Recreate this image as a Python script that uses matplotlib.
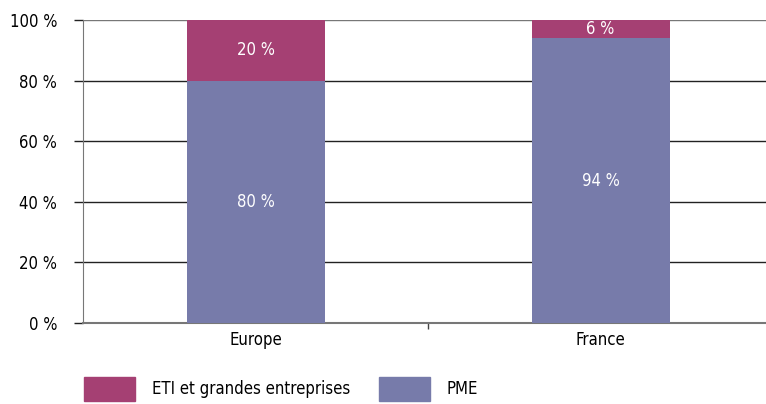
import matplotlib
matplotlib.use("Agg")
import matplotlib.pyplot as plt
import matplotlib.patches as mpatches
from matplotlib.ticker import FuncFormatter

plt.rcParams['font.family'] = ['DejaVu Sans']
plt.rcParams['font.stretch'] = 'condensed'

regions = ['Europe', 'France']
pme = [80, 94]
eti = [20, 6]
series_names = ['ETI et grandes entreprises', 'PME']
yticks = [0, 20, 40, 60, 80, 100]

col_eti = '#A54073'
col_pme = '#777BAA'

fig = plt.figure(figsize=(7.66, 4.04), dpi=100)
ax = fig.add_axes([0.1084, 0.2005, 0.9008, 0.75])

x = range(len(regions))
ax.bar(x, pme, width=0.4, color=col_pme, zorder=3)
ax.bar(x, eti, width=0.4, bottom=pme, color=col_eti, zorder=3)

for xi, p, e in zip(x, pme, eti):
    ax.text(xi, p / 2, f'{p} %', ha='center', va='center', color='white', fontsize=12, zorder=4)
    ax.text(xi, p + e / 2, f'{e} %', ha='center', va='center', color='white', fontsize=12, zorder=4)

ax.set_xlim(-0.5, 1.5)
ax.set_ylim(0, 100)
ax.set_yticks(yticks)
ax.yaxis.set_major_formatter(FuncFormatter(lambda v, _: f'{int(v)} %'))
ax.yaxis.grid(True, color='#222222', linewidth=1.0, zorder=1)
ax.yaxis.get_gridlines()[-1].set_color('#777777')
ax.tick_params(axis='y', length=6.5, width=1.0, color='#222222', labelsize=12, pad=12)

# category labels sit between the ticks, the tick marks the separation
ax.set_xticks([0.5])
ax.set_xticklabels([''])
ax.set_xticks(list(x), minor=True)
ax.set_xticklabels(regions, minor=True, fontsize=12)
ax.tick_params(axis='x', which='major', length=4, width=1.0, color='#444444', direction='out')
ax.tick_params(axis='x', which='minor', length=0, pad=6)

for side in ['top', 'right']:
    ax.spines[side].set_visible(False)
ax.spines['left'].set_color('#777777')
ax.spines['bottom'].set_color('#777777')
ax.spines['bottom'].set_linewidth(1.5)

handles = [mpatches.Patch(color=col_eti), mpatches.Patch(color=col_pme)]
fig.legend(handles, series_names, loc='upper left', bbox_to_anchor=(0.110, 0.068),
           ncol=2, frameon=False, fontsize=12, handlelength=3.05, handleheight=1.9,
           handletextpad=1.0, columnspacing=1.75, borderaxespad=0, borderpad=0)

fig.savefig('out.png', dpi=100)
